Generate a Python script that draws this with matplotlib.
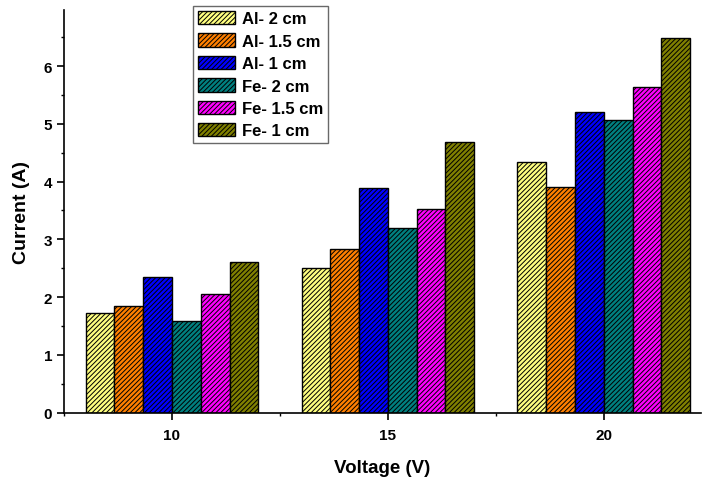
import numpy as np
import matplotlib
matplotlib.use('Agg')
from matplotlib import pyplot as plt
from matplotlib.ticker import MultipleLocator

plt.rcParams['font.family'] = ['Liberation Sans', 'DejaVu Sans']
plt.rcParams['font.weight'] = 'bold'
plt.rcParams['hatch.linewidth'] = 0.7

# ---- data ----
voltages = [10, 15, 20]
series = ['Al- 2 cm', 'Al- 1.5 cm', 'Al- 1 cm', 'Fe- 2 cm', 'Fe- 1.5 cm', 'Fe- 1 cm']
al_2cm = [1.72, 2.50, 4.33]
al_15cm = [1.84, 2.83, 3.90]
al_1cm = [2.35, 3.89, 5.21]
fe_2cm = [1.59, 3.19, 5.07]
fe_15cm = [2.06, 3.52, 5.63]
fe_1cm = [2.61, 4.69, 6.48]
values = [al_2cm, al_15cm, al_1cm, fe_2cm, fe_15cm, fe_1cm]
colors = ['#FFFF80', '#FF8000', '#0000FF', '#008080', '#FF00FF', '#808000']

fig = plt.figure(figsize=(7.02, 4.81), dpi=100)
ax = fig.add_axes([64 / 702, 1 - 413.5 / 481, 637 / 702, 402.5 / 481])

width = 2 / 3
x = np.array(voltages, dtype=float)
handles = []
for i, (name, vals, c) in enumerate(zip(series, values, colors)):
    offs = (i - 2.5) * width
    b = ax.bar(x + offs, vals, width, color=c, edgecolor='black',
               linewidth=1.0, hatch='///////', label=name)
    handles.append(b)

ax.set_xlim(7.5, 22.25)
ax.set_ylim(0, 6.97)
ax.set_xticks(voltages)
ax.set_xticklabels([str(v) for v in voltages])
ax.xaxis.set_minor_locator(MultipleLocator(2.5))
ax.yaxis.set_major_locator(MultipleLocator(1))
ax.yaxis.set_minor_locator(MultipleLocator(0.5))

for s in ['top', 'right']:
    ax.spines[s].set_visible(False)
for s in ['left', 'bottom']:
    ax.spines[s].set_linewidth(1.2)

ax.tick_params(which='major', direction='out', length=5, width=1.2, labelsize=11)
ax.tick_params(which='minor', direction='out', length=2.5, width=1.0)
ax.tick_params(axis='x', which='major', pad=6.5)
ax.tick_params(axis='y', which='major', pad=3.5)
for lab in ax.get_xticklabels() + ax.get_yticklabels():
    lab.set_fontweight('bold')

ax.set_xlabel('Voltage (V)', fontsize=13.5, fontweight='bold', labelpad=12)
ax.set_ylabel('Current (A)', fontsize=14, fontweight='bold', labelpad=10)

leg = ax.legend(handles=handles, loc='upper left', bbox_to_anchor=(0.2025, 1.01),
                fontsize=12, frameon=True, fancybox=False,
                handlelength=2.25, handleheight=0.85, handletextpad=0.4,
                labelspacing=0.42, borderpad=0.3, borderaxespad=0)
leg.get_frame().set_edgecolor('#444444')
leg.get_frame().set_linewidth(1.0)
for t in leg.get_texts():
    t.set_fontweight('bold')

plt.savefig('out.png', dpi=100)
plt.close()
